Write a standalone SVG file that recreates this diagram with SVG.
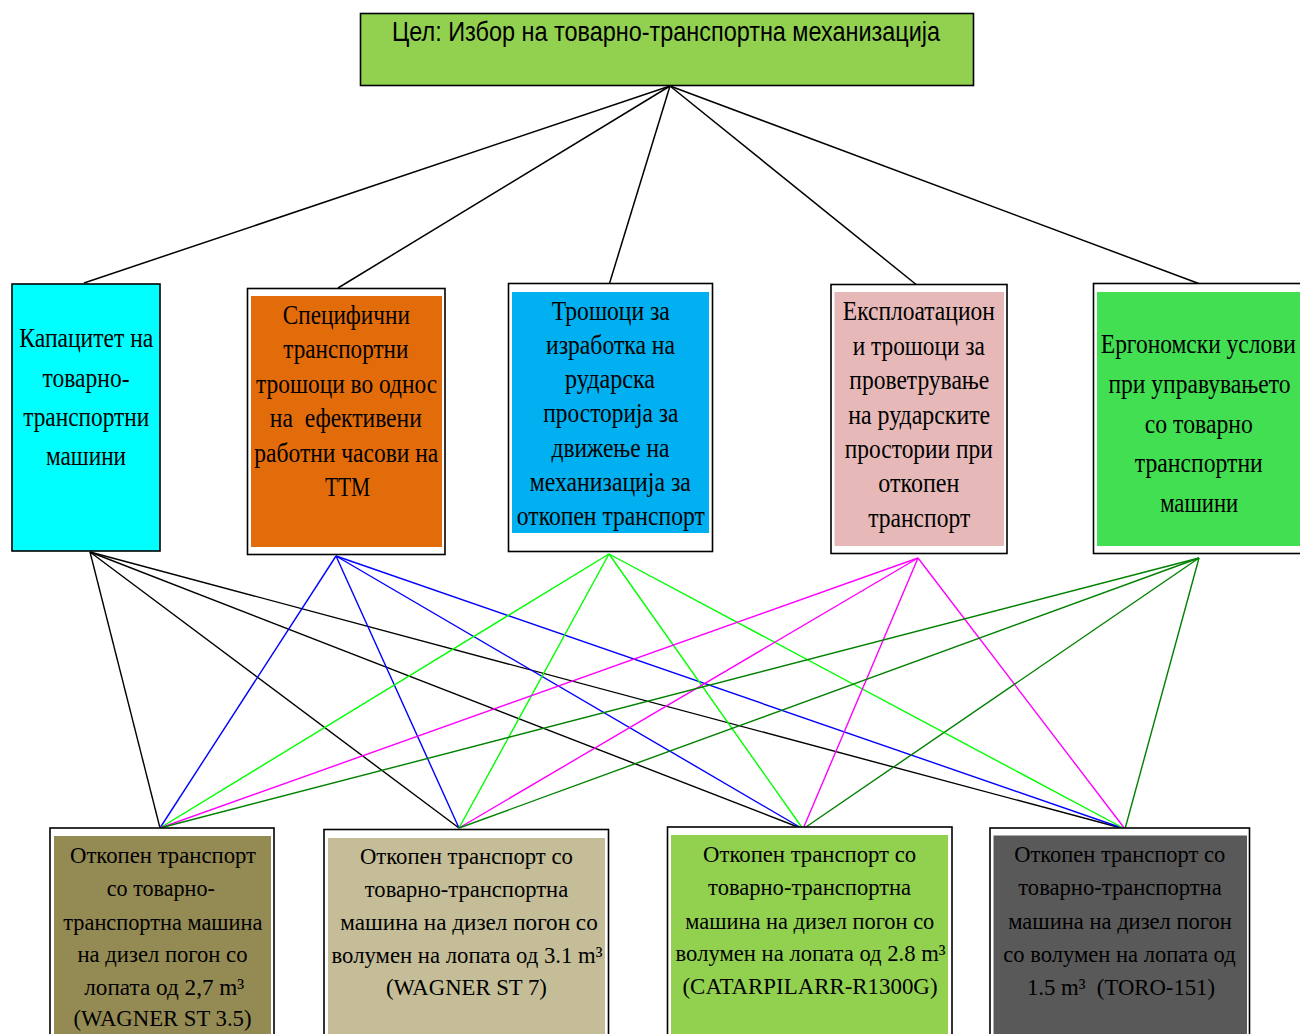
<svg xmlns="http://www.w3.org/2000/svg" width="1300" height="1034" viewBox="0 0 1300 1034">
<style>
.box{stroke:#000;stroke-width:1.6}
.wb{fill:#fff;stroke:#000;stroke-width:1.6}
.t{font-family:"Liberation Serif","Times New Roman",serif;font-size:27px;fill:#000;text-anchor:middle}
.b{font-family:"Liberation Serif","Times New Roman",serif;font-size:23px;fill:#000;text-anchor:middle}
.top{font-family:"Liberation Sans",Arial,sans-serif;font-size:28px;fill:#000;text-anchor:middle}
.k{stroke:#000;stroke-width:1.5;fill:none}
.c1{stroke:#000;stroke-width:1.4}
.c2{stroke:#0000FF;stroke-width:1.4}
.c3{stroke:#00FF00;stroke-width:1.4}
.c4{stroke:#FF00FF;stroke-width:1.4}
.c5{stroke:#008000;stroke-width:1.4}
</style>
<rect width="1300" height="1034" fill="#fff"/>
<g id="connectors">
  <line class="k" x1="670" y1="86" x2="84" y2="283"/>
  <line class="k" x1="670" y1="86" x2="338" y2="288"/>
  <line class="k" x1="670" y1="86" x2="609" y2="285"/>
  <line class="k" x1="670" y1="86" x2="918" y2="286"/>
  <line class="k" x1="670" y1="86" x2="1200" y2="284"/>
  <g class="c1">
    <line x1="90" y1="552" x2="160" y2="828"/>
    <line x1="90" y1="552" x2="459" y2="828"/>
    <line x1="90" y1="552" x2="803" y2="829"/>
    <line x1="90" y1="552" x2="1125" y2="829"/>
  </g>
  <g class="c2">
    <line x1="336" y1="556" x2="160" y2="828"/>
    <line x1="336" y1="556" x2="459" y2="828"/>
    <line x1="336" y1="556" x2="803" y2="829"/>
    <line x1="336" y1="556" x2="1125" y2="829"/>
  </g>
  <g class="c3">
    <line x1="609" y1="554" x2="160" y2="828"/>
    <line x1="609" y1="554" x2="459" y2="828"/>
    <line x1="609" y1="554" x2="803" y2="829"/>
    <line x1="609" y1="554" x2="1125" y2="829"/>
  </g>
  <g class="c4">
    <line x1="918" y1="558" x2="160" y2="828"/>
    <line x1="918" y1="558" x2="459" y2="828"/>
    <line x1="918" y1="558" x2="803" y2="829"/>
    <line x1="918" y1="558" x2="1125" y2="829"/>
  </g>
  <g class="c5">
    <line x1="1199" y1="558" x2="160" y2="828"/>
    <line x1="1199" y1="558" x2="459" y2="828"/>
    <line x1="1199" y1="558" x2="803" y2="829"/>
    <line x1="1199" y1="558" x2="1125" y2="829"/>
  </g>
</g>
<g id="goal">
  <rect class="box" x="360.5" y="13.5" width="613" height="72" fill="#92D050"/>
  <text class="top" x="666" y="41" textLength="548" lengthAdjust="spacingAndGlyphs">Цел: Избор на товарно-транспортна механизација</text>
</g>
<g id="c1">
  <rect class="box" x="12" y="284" width="148" height="267" fill="#00FFFF"/>
  <text class="t" x="86.3" y="347" textLength="134" lengthAdjust="spacingAndGlyphs">Капацитет на</text>
  <text class="t" x="86" y="387" textLength="87" lengthAdjust="spacingAndGlyphs">товарно-</text>
  <text class="t" x="86.2" y="426" textLength="126" lengthAdjust="spacingAndGlyphs">транспортни</text>
  <text class="t" x="86" y="465" textLength="80" lengthAdjust="spacingAndGlyphs">машини</text>
</g>
<g id="c2">
  <rect class="wb" x="247.5" y="288.5" width="197.5" height="266"/>
  <rect x="251" y="296" width="191" height="251" fill="#E36C0A"/>
  <text class="t" x="346.3" y="323.5" textLength="127" lengthAdjust="spacingAndGlyphs">Специфични</text>
  <text class="t" x="345.8" y="358" textLength="125" lengthAdjust="spacingAndGlyphs">транспортни</text>
  <text class="t" x="346.6" y="392.5" textLength="181" lengthAdjust="spacingAndGlyphs">трошоци во однос</text>
  <text class="t" x="345.8" y="427" textLength="152" lengthAdjust="spacingAndGlyphs" xml:space="preserve">на  ефективени</text>
  <text class="t" x="346.3" y="461.5" textLength="184" lengthAdjust="spacingAndGlyphs">работни часови на</text>
  <text class="t" x="347.5" y="495.5" textLength="45" lengthAdjust="spacingAndGlyphs">ТТМ</text>
</g>
<g id="c3">
  <rect class="wb" x="508.5" y="283.5" width="204" height="268"/>
  <rect x="512" y="292" width="197" height="241" fill="#00B0F0"/>
  <text class="t" x="610.8" y="319.5" textLength="118" lengthAdjust="spacingAndGlyphs">Трошоци за</text>
  <text class="t" x="610.5" y="353.5" textLength="129" lengthAdjust="spacingAndGlyphs">изработка на</text>
  <text class="t" x="610" y="388" textLength="90" lengthAdjust="spacingAndGlyphs">рударска</text>
  <text class="t" x="610.8" y="422" textLength="135" lengthAdjust="spacingAndGlyphs">просторија за</text>
  <text class="t" x="610.5" y="456.5" textLength="118" lengthAdjust="spacingAndGlyphs">движење на</text>
  <text class="t" x="610.3" y="490.5" textLength="161" lengthAdjust="spacingAndGlyphs">механизација за</text>
  <text class="t" x="610.8" y="525" textLength="188" lengthAdjust="spacingAndGlyphs">откопен транспорт</text>
</g>
<g id="c4">
  <rect class="wb" x="831" y="284.5" width="176" height="269"/>
  <rect x="834.5" y="292" width="169.5" height="254" fill="#E6B9B8"/>
  <text class="t" x="918.8" y="320" textLength="152" lengthAdjust="spacingAndGlyphs">Експлоатацион</text>
  <text class="t" x="918.8" y="354.5" textLength="132" lengthAdjust="spacingAndGlyphs">и трошоци за</text>
  <text class="t" x="919.3" y="389" textLength="140" lengthAdjust="spacingAndGlyphs">проветрување</text>
  <text class="t" x="919.2" y="423.5" textLength="142" lengthAdjust="spacingAndGlyphs">на рударските</text>
  <text class="t" x="918.8" y="458" textLength="148" lengthAdjust="spacingAndGlyphs">простории при</text>
  <text class="t" x="918.8" y="492" textLength="81" lengthAdjust="spacingAndGlyphs">откопен</text>
  <text class="t" x="919.2" y="527" textLength="102" lengthAdjust="spacingAndGlyphs">транспорт</text>
</g>
<g id="c5">
  <rect class="wb" x="1093.5" y="283.5" width="215" height="270"/>
  <rect x="1097" y="292" width="210" height="254" fill="#42DF53"/>
  <text class="t" x="1198.3" y="353" textLength="195" lengthAdjust="spacingAndGlyphs">Ергономски услови</text>
  <text class="t" x="1199.5" y="393" textLength="182" lengthAdjust="spacingAndGlyphs">при управувањето</text>
  <text class="t" x="1198.8" y="432.5" textLength="108" lengthAdjust="spacingAndGlyphs">со товарно</text>
  <text class="t" x="1198.8" y="472" textLength="128" lengthAdjust="spacingAndGlyphs">транспортни</text>
  <text class="t" x="1199.2" y="511.5" textLength="78" lengthAdjust="spacingAndGlyphs">машини</text>
</g>
<g id="a1">
  <rect class="wb" x="50" y="828" width="224" height="220"/>
  <rect x="54" y="836" width="217" height="210" fill="#948A54"/>
  <text class="b" x="163" y="863" textLength="186" lengthAdjust="spacingAndGlyphs">Откопен транспорт</text>
  <text class="b" x="160.8" y="896" textLength="108" lengthAdjust="spacingAndGlyphs">со товарно-</text>
  <text class="b" x="162.8" y="929.5" textLength="199" lengthAdjust="spacingAndGlyphs">транспортна машина</text>
  <text class="b" x="162.5" y="962" textLength="170" lengthAdjust="spacingAndGlyphs">на дизел погон со</text>
  <text class="b" x="164.3" y="994.5" textLength="160" lengthAdjust="spacingAndGlyphs">лопата од 2,7 m³</text>
  <text class="b" x="162.5" y="1026" textLength="178" lengthAdjust="spacingAndGlyphs">(WAGNER ST 3.5)</text>
</g>
<g id="a2">
  <rect class="wb" x="324" y="829.5" width="284.5" height="220"/>
  <rect x="328" y="838" width="277" height="210" fill="#C4BD97"/>
  <text class="b" x="466.4" y="863.5" textLength="213" lengthAdjust="spacingAndGlyphs">Откопен транспорт со</text>
  <text class="b" x="466.5" y="897" textLength="203.5" lengthAdjust="spacingAndGlyphs">товарно-транспортна</text>
  <text class="b" x="469" y="930" textLength="257.5" lengthAdjust="spacingAndGlyphs">машина на дизел погон со</text>
  <text class="b" x="467" y="963" textLength="271" lengthAdjust="spacingAndGlyphs">волумен на лопата од 3.1 m³</text>
  <text class="b" x="466.4" y="995" textLength="161" lengthAdjust="spacingAndGlyphs">(WAGNER ST 7)</text>
</g>
<g id="a3">
  <rect class="wb" x="667.5" y="827" width="284.5" height="220"/>
  <rect x="671" y="835" width="277" height="210" fill="#92D050"/>
  <text class="b" x="809.6" y="862" textLength="213" lengthAdjust="spacingAndGlyphs">Откопен транспорт со</text>
  <text class="b" x="809.6" y="895" textLength="203" lengthAdjust="spacingAndGlyphs">товарно-транспортна</text>
  <text class="b" x="809.8" y="928.5" textLength="249" lengthAdjust="spacingAndGlyphs">машина на дизел погон со</text>
  <text class="b" x="810.6" y="960.5" textLength="270" lengthAdjust="spacingAndGlyphs">волумен на лопата од 2.8 m³</text>
  <text class="b" x="810" y="993.5" textLength="255" lengthAdjust="spacingAndGlyphs">(CATARPILARR-R1300G)</text>
</g>
<g id="a4">
  <rect class="wb" x="990" y="828" width="259.5" height="220"/>
  <rect x="993.5" y="835.5" width="253.5" height="210" fill="#595959"/>
  <text class="b" x="1119.7" y="862" textLength="211" lengthAdjust="spacingAndGlyphs" fill="#0d0d0d">Откопен транспорт со</text>
  <text class="b" x="1120" y="895" textLength="203.5" lengthAdjust="spacingAndGlyphs">товарно-транспортна</text>
  <text class="b" x="1120" y="928.5" textLength="223.5" lengthAdjust="spacingAndGlyphs">машина на дизел погон</text>
  <text class="b" x="1119.5" y="962" textLength="232.5" lengthAdjust="spacingAndGlyphs">со волумен на лопата од</text>
  <text class="b" x="1121" y="995" textLength="188" lengthAdjust="spacingAndGlyphs" xml:space="preserve">1.5 m³  (TORO-151)</text>
</g>
</svg>
